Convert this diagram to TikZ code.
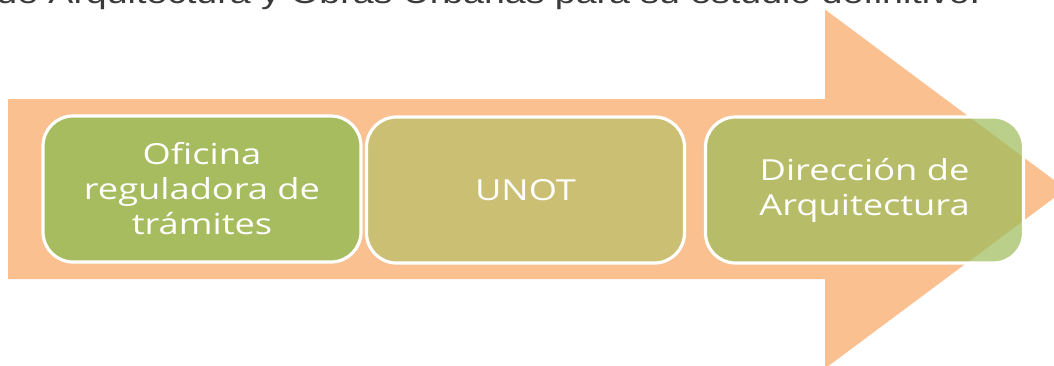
\documentclass[tikz,border=0pt]{standalone}
\usepackage{fontspec}
\newfontfamily\boxfont[FakeStretch=1.25]{Open Sans}
\newfontfamily\topfont[FakeStretch=1.25]{Liberation Sans}
\definecolor{flecha}{HTML}{FAC090}
\definecolor{verdeA}{HTML}{A6BC5F}
\definecolor{ocre}{HTML}{CBBF74}
\definecolor{verdeC}{HTML}{9BBB59}
\definecolor{gristexto}{HTML}{3A3A3A}
\begin{document}
\begin{tikzpicture}[x=0.5pt,y=-0.5pt,
	paso/.style={draw=white,line width=1.6pt,rounded corners=15pt,minimum width=159pt,minimum height=73pt,inner sep=0pt,align=center,text=white,font=\boxfont\fontsize{14.5}{17.5}\selectfont}]
	\useasboundingbox (0,0) rectangle (1054,365);
	\clip (0,0) rectangle (1054,365);
	% linea de texto cortada arriba
	\node[anchor=base west,inner sep=0pt,text=gristexto,font=\topfont\fontsize{15}{18}\selectfont] (texto) at (-4,3) {de Arquitectura y Obras Urbanas para su estudio definitivo.};
	% flecha de fondo
	\fill[flecha] (8,99) -- (825,99) -- (825,9.5) -- (1066,189) -- (825,368.5) -- (825,279) -- (8,279) -- cycle;
	\node[paso,fill=verdeA] (oficina) at (202,189) {Oficina\\reguladora de\\trámites};
	\node[paso,fill=ocre] (unot) at (525.5,190) {UNOT};
	\node[paso,fill=verdeC,fill opacity=0.7,text opacity=1,draw opacity=1] (direccion) at (864.5,190) {Dirección de\\Arquitectura};
\end{tikzpicture}
\end{document}
